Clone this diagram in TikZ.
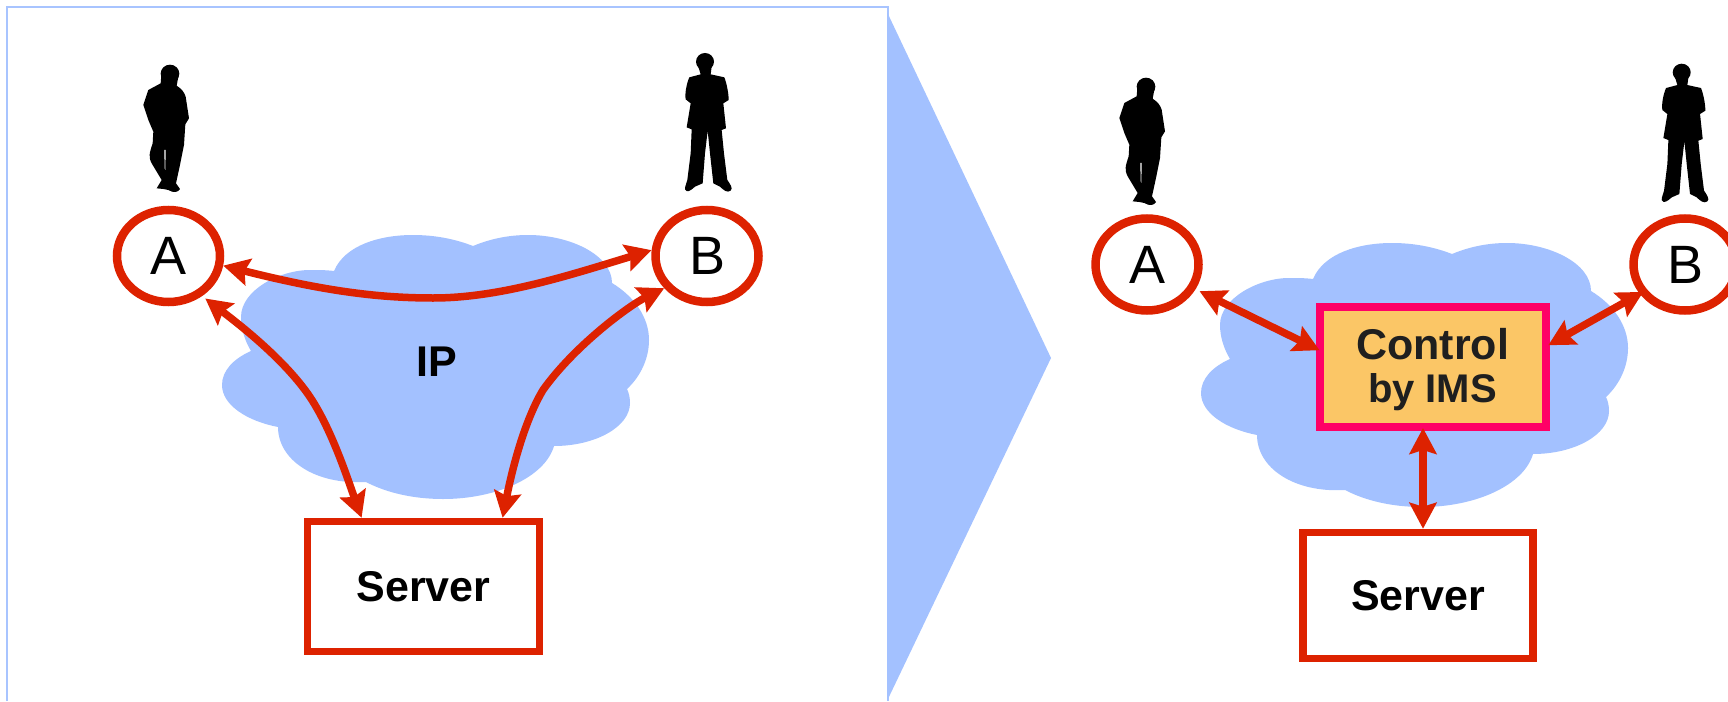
\documentclass[tikz,border=0pt]{standalone}
\usepackage{fontspec}
\setmainfont{Liberation Sans}
\usetikzlibrary{arrows.meta,shapes.geometric}
\definecolor{cloudblue}{HTML}{A3C1FF}
\definecolor{framecol}{HTML}{A8C4FF}
\definecolor{redline}{HTML}{DD2200}
\definecolor{pinkline}{HTML}{FF0066}
\definecolor{ctrlfill}{HTML}{FBC666}
\definecolor{darktext}{HTML}{1F1F1F}
\tikzset{
  usercircle/.style={ellipse,draw=redline,fill=white,line width=8.5pt,minimum width=103pt,minimum height=92pt,inner sep=0pt,font=\fontsize{54}{60}\selectfont},
  serverbox/.style={rectangle,draw=redline,fill=white,line width=7.5pt,minimum width=232pt,minimum height=130pt,inner sep=0pt,font=\fontsize{43}{48}\selectfont\bfseries},
  ctrlbox/.style={rectangle,draw=pinkline,fill=ctrlfill,line width=8pt,minimum width=226pt,minimum height=120pt,inner sep=0pt},
  boldtext/.style={inner sep=0pt,anchor=base,font=\fontsize{43}{48}\selectfont\bfseries},
  link/.style={draw=redline,line width=7.5pt,{Stealth[length=26pt,width=27pt,inset=4pt]}-{Stealth[length=26pt,width=27pt,inset=4pt]}},
  cloudshape/.style={fill=cloudblue,draw=none}
}
\newcommand{\cloudpath}{
  (334,271) .. controls (345,245) and (380,235) .. (413,235)
  .. controls (435,235) and (455,239) .. (473,246)
  .. controls (490,239) and (508,235) .. (528,235)
  .. controls (570,235) and (612,255) .. (612,283)
  .. controls (635,297) and (649,318) .. (649,340)
  .. controls (649,358) and (641,376) .. (627,389)
  .. controls (629,393) and (630,398) .. (630,403)
  .. controls (630,427) and (595,446) .. (554,446)
  .. controls (545,477) and (497,499) .. (443,499)
  .. controls (414,499) and (387,493) .. (366,482)
  .. controls (315,485) and (278,460) .. (278,427)
  .. controls (247,421) and (222,405) .. (222,385)
  .. controls (222,371) and (233,359) .. (251,351)
  .. controls (245,341) and (241,329) .. (241,317)
  .. controls (241,290) and (280,270) .. (310,270)
  .. controls (318,270) and (326,270) .. (334,271) -- cycle}
\newcommand{\personA}[2]{
  \begin{scope}[shift={(#1,#2)},scale=0.3333]
  \fill[black] (120,56) ellipse[x radius=28,y radius=27];
  \fill[black] (94,60) -- (146,60) -- (140,92) .. controls (155,102) and (163,112) .. (167,125) -- (177,190) -- (166,208) -- (162,270) -- (150,330) -- (138,385) -- (150,402) .. controls (145,412) and (130,415) .. (115,405) -- (100,402) -- (80,400) -- (95,375) -- (65,325) .. controls (55,305) and (58,295) .. (68,265) -- (70,230) -- (55,195) -- (40,150) -- (55,105) -- (92,85) -- cycle;
  \fill[white] (103,285) -- (107,285) -- (106,345) -- (104,340) -- cycle;
  \end{scope}}
\newcommand{\personB}[2]{
  \begin{scope}[shift={(#1,#2)},scale=0.3333]
  \fill[black] (105,65) ellipse[x radius=27,y radius=26];
  \fill[black] (85,80) -- (125,80) -- (122,103) -- (163,112) .. controls (170,130) and (176,160) .. (176,180) -- (160,190) -- (168,265) -- (155,270) -- (162,340) -- (172,420) .. controls (180,432) and (190,445) .. (182,452) .. controls (172,460) and (160,450) .. (150,440) -- (130,430) -- (120,340) -- (113,272) -- (105,340) -- (98,430) -- (75,440) .. controls (62,452) and (50,460) .. (45,448) .. controls (44,440) and (50,430) .. (52,420) -- (62,340) -- (65,268) -- (50,262) -- (62,190) -- (47,178) .. controls (44,160) and (50,130) .. (58,112) -- (92,103) -- cycle;
  \end{scope}}
\begin{document}
\begin{tikzpicture}[x=1pt,y=-1pt]
\useasboundingbox (0,0) rectangle (1728,701);
\begin{scope}
\clip (0,0) rectangle (1728,701);
\fill[white] (0,0) rectangle (1728,701);
% frame and big chevron
\draw[framecol,line width=1.5pt] (7,701) -- (7,7) -- (888,7) -- (888,701);
\fill[cloudblue] (887,12) -- (1051,358) -- (887,701) -- cycle;
% clouds
\path[cloudshape] \cloudpath;
\begin{scope}[shift={(979,8)}]
\path[cloudshape] \cloudpath;
\end{scope}
% people
\personA{130}{55}
\personB{670}{40}
\personA{1106}{68}
\personB{1646.7}{50.7}
% left nodes
\node[usercircle] (A1) at (168.5,256) {A};
\node[usercircle] (B1) at (707,256) {B};
\node[serverbox] (S1) at (423.5,586.5) {Server};
\node[boldtext] (IP) at (437,376) {IP};
% right nodes
\node[usercircle] (A2) at (1147,264.5) {A};
\node[usercircle] (B2) at (1685,264.5) {B};
\node[ctrlbox] (C) at (1433,367) {};
\node[boldtext,text=darktext] (C1) at (1432.5,359) {Control};
\node[boldtext,text=darktext,font=\fontsize{40}{46}\selectfont\bfseries] (C2) at (1432.5,402) {by IMS};
\node[serverbox,minimum width=230pt,minimum height=126pt] (S2) at (1418,595.5) {Server};
\coordinate (vx) at (1423,0);
% left links
\draw[link] (A1.-10) .. controls (320,290) and (375,298) .. (433,298) .. controls (500,298) and (570,275) .. (B1.174);
\draw[link,shorten <=4pt] (A1.-50) .. controls (240,325) and (285,360) .. (310,397) .. controls (332,430) and (348,480) .. (S1.132.8);
\draw[link] (B1.217) .. controls (630,305) and (575,345) .. (543,390) .. controls (522,425) and (510,480) .. (S1.41.8);
% right links
\draw[link,shorten <=4.5pt,shorten >=-4pt] (A2.-27) -- (C.171.2);
\draw[link,shorten <=-4pt,shorten >=-2pt] (B2.213.9) -- (C.11.6);
\draw[link,shorten <=-3pt] (vx |- C.south) -- (vx |- S2.north);
\end{scope}
\end{tikzpicture}
\end{document}
